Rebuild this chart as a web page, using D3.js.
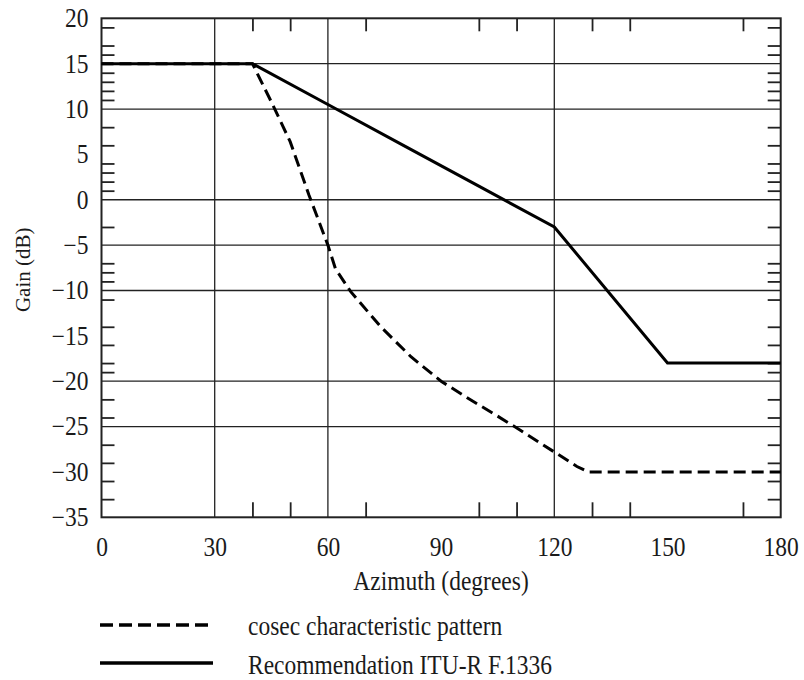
<!DOCTYPE html>
<html><head><meta charset="utf-8">
<script src="https://cdn.jsdelivr.net/npm/d3@7"></script>
<style>
html,body{margin:0;padding:0;background:#fff;}
text{font-family:"Liberation Serif","Times New Roman",serif;fill:#1a1a1a;}
</style></head>
<body>
<svg id="chart" width="804" height="680"></svg>
<script>
// ---- data ----
const cosecAz   = [0, 40, 45, 50, 55, 60, 62, 66, 74, 82, 90, 98, 104, 111, 120, 126, 129, 180];
const cosecGain = [15, 15, 10.8, 6.4, 0.5, -5, -7.6, -10.1, -14, -17.3, -20, -22.1, -23.6, -25.4, -27.8, -29.4, -30, -30];
const ituAz     = [0, 40, 60, 80, 100, 120, 150, 180];
const ituGain   = [15, 15, 10.5, 6.0, 1.5, -3, -18, -18];
const xTickLabels = [0, 30, 60, 90, 120, 150, 180];
const yTickLabels = [20, 15, 10, 5, 0, -5, -10, -15, -20, -25, -30, -35];
const xGrid = [30, 60, 120];
const yGrid = [15, 10, 0, -5, -10, -20, -25];
const xMinor = [40, 50, 70, 100, 110, 130, 140, 170];
const yMinor = [19, 17, 16, 14, 13, 12, 11, 8, 6, 4, 3, 2, 1, -3, -7, -8, -9, -11, -14, -16, -18, -19, -22, -24, -27, -29, -31, -33];
const seriesNames = ["cosec characteristic pattern", "Recommendation ITU-R F.1336"];
const xTitle = "Azimuth (degrees)";
const yTitle = "Gain (dB)";

// ---- layout ----
const L = 101.5, R = 780.7, T = 18.3, B = 517.3;
const FS = 23.5, SY = 1.12;
const svg = d3.select("#chart");
const x = d3.scaleLinear().domain([0, 180]).range([L, R]);
const y = d3.scaleLinear().domain([-35, 20]).range([B, T]);

function stretch(sel){
  sel.each(function(){
    const t = d3.select(this);
    const yv = +(t.attr("y") || 0);
    t.attr("y", yv / SY).attr("transform", `scale(1,${SY})`);
  });
}

// gridlines
const g = svg.append("g");
g.selectAll(".vg").data(xGrid).join("line")
  .attr("x1", d => x(d)).attr("x2", d => x(d)).attr("y1", T).attr("y2", B)
  .attr("stroke", "#222").attr("stroke-width", 1.3);
g.selectAll(".hg").data(yGrid).join("line")
  .attr("y1", d => y(d)).attr("y2", d => y(d)).attr("x1", L).attr("x2", R)
  .attr("stroke", "#222").attr("stroke-width", 1.3);

// minor ticks (inward) on all four sides
function styleTicks(sel){
  sel.select(".domain").remove();
  sel.selectAll(".tick line").attr("stroke", "#222").attr("stroke-width", 1.8);
}
svg.append("g").attr("transform", `translate(0,${B})`)
  .call(d3.axisBottom(x).tickValues(xMinor).tickSize(-15).tickFormat(""))
  .call(styleTicks);
svg.append("g").attr("transform", `translate(0,${T})`)
  .call(d3.axisTop(x).tickValues(xMinor).tickSize(-13).tickFormat(""))
  .call(styleTicks);
svg.append("g").attr("transform", `translate(${L},0)`)
  .call(d3.axisLeft(y).tickValues(yMinor).tickSize(-13).tickFormat(""))
  .call(styleTicks);
svg.append("g").attr("transform", `translate(${R},0)`)
  .call(d3.axisRight(y).tickValues(yMinor).tickSize(-13).tickFormat(""))
  .call(styleTicks);

// frame
svg.append("rect").attr("x", L).attr("y", T).attr("width", R - L).attr("height", B - T)
  .attr("fill", "none").attr("stroke", "#222").attr("stroke-width", 2);

// tick labels
const xa = svg.append("g").attr("transform", `translate(0,${B})`)
  .call(d3.axisBottom(x).tickValues(xTickLabels).tickSize(0).tickPadding(20));
xa.select(".domain").remove();
xa.selectAll("text").attr("font-size", FS).attr("font-family", "Liberation Serif").call(stretch);
const ya = svg.append("g").attr("transform", `translate(${L},0)`)
  .call(d3.axisLeft(y).tickValues(yTickLabels).tickSize(0).tickPadding(13));
ya.select(".domain").remove();
ya.selectAll("text").attr("font-size", FS).attr("font-family", "Liberation Serif").call(stretch);

// titles
svg.append("text").attr("x", 441).attr("y", 590).attr("text-anchor", "middle")
  .attr("font-size", FS).text(xTitle).call(stretch);
svg.append("text").attr("transform", `translate(30,${(T + B) / 2 + 2}) rotate(-90)`)
  .attr("text-anchor", "middle").attr("font-size", 21).text(yTitle);

// data lines
const line = d3.line().x(d => x(d[0])).y(d => y(d[1]));
const cosec = cosecAz.map((a, i) => [a, cosecGain[i]]);
const itu = ituAz.map((a, i) => [a, ituGain[i]]);
svg.append("path").attr("d", line(cosec)).attr("fill", "none").attr("stroke", "#000")
  .attr("stroke-width", 3).attr("stroke-dasharray", "12,6");
svg.append("path").attr("d", line(itu)).attr("fill", "none").attr("stroke", "#000")
  .attr("stroke-width", 3);

// legend
const leg = [{y: 625, dash: "13,6", name: seriesNames[0], ty: 635},
             {y: 663, dash: null, name: seriesNames[1], ty: 674}];
leg.forEach(d => {
  svg.append("line").attr("x1", 100).attr("x2", 213).attr("y1", d.y).attr("y2", d.y)
    .attr("stroke", "#000").attr("stroke-width", 3.5).attr("stroke-dasharray", d.dash);
  svg.append("text").attr("x", 248).attr("y", d.ty).attr("font-size", FS).text(d.name).call(stretch);
});
</script>
</body></html>
